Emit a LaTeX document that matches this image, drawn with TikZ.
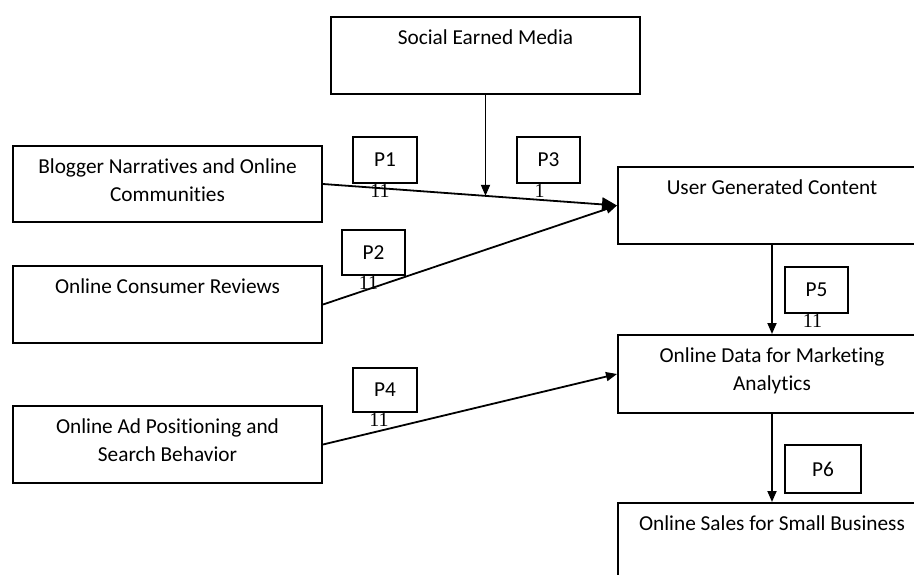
\documentclass[tikz,border=0pt]{standalone}
\usepackage{fontspec}
\setmainfont{Carlito}[Ligatures=NoCommon]
\newfontfamily\numfont{Liberation Serif}
\usetikzlibrary{arrows.meta,calc}

\begin{document}
\begin{tikzpicture}[x=1pt, y=-1pt,
  box/.style={draw, line width=2pt, anchor=north west, inner sep=0pt,
    minimum width=309pt, minimum height=77pt},
  boxtext/.style={anchor=north, inner sep=0pt, align=center,
    font=\fontsize{21.3}{28.5}\selectfont},
  pbox/.style={draw, line width=2pt, anchor=north west, inner sep=0pt,
    font=\fontsize{21.3}{25}\selectfont},
  pnum/.style={anchor=north, inner sep=0pt, font=\numfont\fontsize{20}{24}\selectfont},
  link/.style={line width=1.8pt, -{Triangle[length=11pt, width=9pt]}}]
  \useasboundingbox (0, 0) rectangle (914, 575);
  \clip (0, 0) rectangle (914, 575);
  %
  \newcommand{\textDrop}{13.5pt}
  %
  % top and left column
  \node[box] at (330, 16) (sem) {};
  \node[box, minimum height=76pt] at (12, 145) (blog) {};
  \node[box] at (12, 265) (rev) {};
  \node[box] at (12, 405) (ad) {};
  %
  % right column (runs off the page)
  \node[box, minimum width=308pt] at (617, 166) (ugc) {};
  \node[box, minimum width=308pt, minimum height=78pt] at (617, 334) (data) {};
  \node[box, minimum width=308pt, minimum height=100pt] at (617, 502) (sales) {};
  %
  \node[boxtext] at ([yshift=-\textDrop]sem.north) (sem text) {Social Earned Media};
  \node[boxtext] at ([yshift=-\textDrop]blog.north) (blog text) {Blogger Narratives and Online\\Communities};
  \node[boxtext] at ([yshift=-\textDrop]rev.north) (rev text) {Online Consumer Reviews};
  \node[boxtext] at ([yshift=-\textDrop]ad.north) (ad text) {Online Ad Positioning and\\Search Behavior};
  \node[boxtext] at ([yshift=-\textDrop]ugc.north) (ugc text) {User Generated Content};
  \node[boxtext] at ([yshift=-\textDrop]data.north) (data text) {Online Data for Marketing\\Analytics};
  \node[boxtext] at ([yshift=-\textDrop]sales.north) (sales text) {Online Sales for Small Business};
  %
  % arrows
  \draw[link, -{Triangle[length=15pt, width=14pt]}] (blog.east) -- (ugc.west);
  \draw[link] (rev.east) -- (ugc.west);
  \draw[link] (ad.east) -- (data.west);
  \coordinate (join) at ($(blog.east)!0.55!(ugc.west)$);
  \draw[link] (sem.south) -- (sem.south |- join);
  \draw[link] (ugc.south) -- (data.north);
  \draw[link] (data.south) -- (sales.north);
  %
  % path labels
  \foreach \name/\x/\y/\w/\h in {P1/352/136/64/46, P2/341/229/63/45,
      P3/516/136/63/46, P4/352/367/64/44, P5/784/266/63/46, P6/784/444/76/48} {
    \node[pbox, minimum width=\w pt, minimum height=\h pt] at (\x, \y) (\name) {\name};
  }
  \foreach \name/\dx/\val in {P1/-5/11, P2/-5/11, P3/-9/1, P4/-6/11, P5/-4/11} {
    \node[pnum] at ([xshift=\dx pt]\name.south) (\name num) {\val};
  }

\end{tikzpicture}
\end{document}
